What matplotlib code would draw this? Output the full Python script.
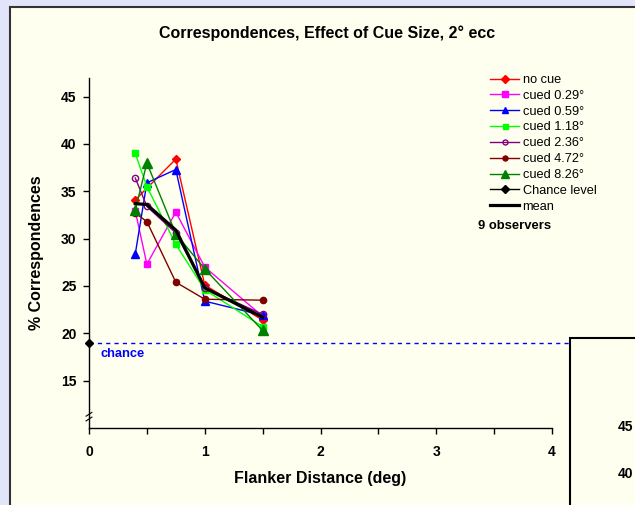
import matplotlib
matplotlib.use("Agg")
import matplotlib.pyplot as plt
from matplotlib.patches import Rectangle
from matplotlib.lines import Line2D

plt.rcParams["font.family"] = ["Liberation Sans", "DejaVu Sans"]

# values
X5 = [0.4, 0.5, 0.75, 1.0, 1.5]
X_NOCUE = [0.4, 0.75, 1.0, 1.5]
NO_CUE = [34.1, 38.4, 25.1, 21.4]
CUED_029 = [32.9, 27.3, 32.8, 27.0, 21.8]
CUED_059 = [28.4, 35.9, 37.3, 23.4, 21.9]
CUED_118 = [39.0, 35.5, 29.4, 24.6, 20.7]
CUED_236 = [36.4, 33.4, 30.6, 24.8, 22.0]
CUED_472 = [32.7, 31.8, 25.4, 23.6, 23.5]
CUED_826 = [33.0, 38.0, 30.5, 26.8, 20.3]
MEAN = [33.7, 33.6, 30.9, 24.8, 21.7]
CHANCE = 19.0

BG = "#fffff0"

fig = plt.figure(figsize=(6.35, 5.05), dpi=100)
fig.patch.set_facecolor("#e2e4fa")
# ivory chart area with its frame
fig.patches.append(Rectangle((10 / 635, -0.1), 1.2, (505 - 7) / 505 + 0.1,
                             transform=fig.transFigure, facecolor=BG,
                             edgecolor="#333333", linewidth=1.5, zorder=-1))

ax = fig.add_axes([89 / 635, 77 / 505, (552 - 89) / 635, (428 - 77.7) / 505])
ax.set_facecolor(BG)
ax.set_xlim(0, 4)
ax.set_ylim(10, 47)

series = [
    ("no cue", X_NOCUE, NO_CUE, "#ff0000", "D", 4.5, "#ff0000"),
    ("cued 0.29°", X5, CUED_029, "#ff00ff", "s", 5, "#ff00ff"),
    ("cued 0.59°", X5, CUED_059, "#0000ff", "^", 5.5, "#0000ff"),
    ("cued 1.18°", X5, CUED_118, "#00ff00", "s", 4.5, "#00ff00"),
    ("cued 2.36°", X5, CUED_236, "#800080", "o", 4.5, "none"),
    ("cued 4.72°", X5, CUED_472, "#800000", "o", 4.5, "#800000"),
    ("cued 8.26°", X5, CUED_826, "#008000", "^", 6.5, "#008000"),
]
handles = []
for label, xs, ys, col, mk, ms, fc in series:
    h, = ax.plot(xs, ys, color=col, lw=1, marker=mk, ms=ms,
                 markerfacecolor=fc, markeredgecolor=col, label=label)
    handles.append(h)

h_mean, = ax.plot(X5, MEAN, color="black", lw=2.3, label="mean", zorder=5)

ax.plot([0, 4.2], [CHANCE, CHANCE], color="#0000ff", lw=1,
        dashes=(3, 3), clip_on=False)
ax.plot([0], [CHANCE], marker="D", color="black", ms=4.5, clip_on=False, zorder=6)
ax.text(0.1, 17.8, "chance", color="#0000ff", fontsize=9.3,
        fontweight="bold", va="center")

h_chance = Line2D([], [], color="black", lw=1, marker="D", ms=4.5)
handles += [h_chance, h_mean]
labels = [s[0] for s in series] + ["Chance level", "mean"]
fig.legend(handles, labels, loc="upper left", bbox_to_anchor=(490 / 635, 1 - 74 / 505),
           frameon=False, fontsize=9.2, handlelength=2.3, handletextpad=0.25,
           labelspacing=0.3, borderaxespad=0, borderpad=0, markerscale=0.8)
fig.text(478 / 635, 1 - 226 / 505, "9 observers", fontsize=9.4,
         fontweight="bold", va="center")

for s in ["top", "right"]:
    ax.spines[s].set_visible(False)
ax.spines["left"].set_linewidth(1)
ax.spines["bottom"].set_linewidth(1)
ax.set_xticks([0, 1, 2, 3, 4])
ax.set_xticks([0.5, 1.5, 2.5, 3.5], minor=True)
ax.set_yticks([15, 20, 25, 30, 35, 40, 45])
ax.tick_params(axis="both", which="both", direction="out", length=4,
               width=1, labelsize=10)
ax.tick_params(axis="x", pad=8)
ax.tick_params(axis="y", pad=5)
for lab in ax.get_xticklabels() + ax.get_yticklabels():
    lab.set_fontweight("bold")

# axis break mark
for dy in (-0.25, 0.25):
    ax.plot([-0.025, 0.025], [11.2 + dy - 0.2, 11.2 + dy + 0.2], color="black",
            lw=0.8, clip_on=False)

ax.set_xlabel("Flanker Distance (deg)", fontsize=11.5, fontweight="bold", labelpad=9)
ax.set_ylabel("% Correspondences", fontsize=11.5, fontweight="bold", labelpad=12)

fig.text(327 / 635, 1 - 33 / 505, "Correspondences, Effect of Cue Size, 2° ecc",
         ha="center", va="center", fontsize=11.5, fontweight="bold")

# edge of the neighbouring chart in the lower right
fig.patches.append(Rectangle((570 / 635, -0.1), 0.5, (505 - 338) / 505 + 0.1,
                             transform=fig.transFigure, facecolor=BG,
                             edgecolor="black", linewidth=1.5, zorder=5))
fig.text(618 / 635, 1 - 427 / 505, "45", fontsize=10, fontweight="bold",
         va="center", zorder=6)
fig.text(618 / 635, 1 - 474 / 505, "40", fontsize=10, fontweight="bold",
         va="center", zorder=6)

fig.savefig("out.png", dpi=100, facecolor=fig.get_facecolor())
